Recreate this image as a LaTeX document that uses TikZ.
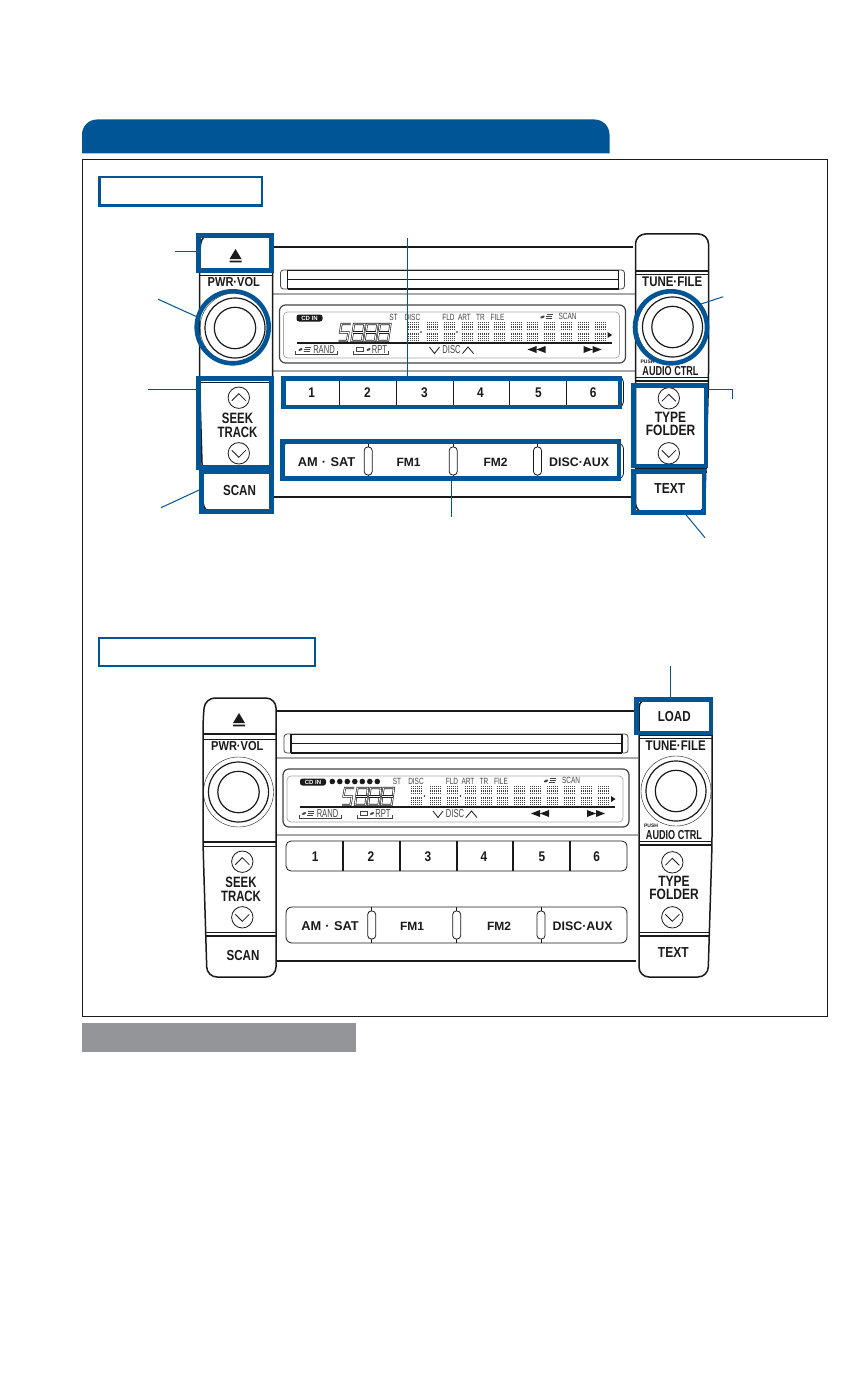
\documentclass[tikz,border=0pt]{standalone}
\usepackage{fontspec}
\setmainfont{Liberation Sans}
\usetikzlibrary{backgrounds}
\definecolor{cBand}{HTML}{005596}
\definecolor{cNote}{HTML}{939598}
\definecolor{ink}{HTML}{1A1A1A}
\definecolor{ink2}{HTML}{444444}
\definecolor{rule}{HTML}{A8A8A8}

\tikzset{
    lab/.style={font=\bfseries\fontsize{#1}{#1}\selectfont, text=ink, inner sep=0pt},
    slim/.style 2 args={lab=#1, xscale=#2, transform shape},
    lcd/.style 2 args={font=\fontsize{#1}{#1}\selectfont, text=ink2, inner sep=0pt, xscale=#2, transform shape},
    thick line/.style={draw=ink, line width=1.5pt},
    thin line/.style={draw=ink, line width=0.8pt},
    grey line/.style={draw=rule, line width=1.2pt},
    digit/.style={draw=ink, line width=.6pt, double=white, double distance=.9pt},
    radiounit/.pic={
        % ------------------------------------------------------- body
        \draw [thick line] (276,711) -- (636,711);
        \draw [thick line] (276,961) -- (636,961);
        \draw [grey line]  (276,758) -- (638,758);
        \draw [grey line]  (276,835) -- (638,835);
        % slot
        \draw [thin line, draw=ink2, rounded corners=3pt] (284,734) rectangle (628,753);
        \draw [thin line] (291,734) -- (622,734);
        \draw [thin line] (291,743) -- (622,743);
        \draw [thick line, line width=1.1pt] (291,753) -- (622,753);
        \draw [thick line, line width=1.1pt] (291,734) -- (291,753);
        \draw [thick line, line width=1.1pt] (622,734) -- (622,753);
        % display
        \draw [draw=ink2, line width=1.2pt, rounded corners=6pt] (283,769) rectangle (629,827);
        \draw [draw=rule, line width=0.7pt, rounded corners=4pt] (287,776) rectangle (623,822);
        \node (cdin) [fill=ink, rounded corners=2.5pt, text=white, font=\bfseries\fontsize{6}{6}\selectfont,
            inner sep=0pt, minimum width=26pt, minimum height=7pt] at (313,782) {CD IN};
        \node (st)   [lcd={9}{.72}] at (397,781) {ST};
        \node (disc) [lcd={9}{.72}] at (416,781) {DISC};
        \node (fld)  [lcd={9}{.72}] at (452,781) {FLD};
        \node (art)  [lcd={9}{.72}] at (468,781) {ART};
        \node (tr)   [lcd={9}{.72}] at (484,781) {TR};
        \node (file) [lcd={9}{.72}] at (501,781) {FILE};
        \node (scan) [lcd={9}{.72}] at (571,780) {SCAN};
        \fill [ink2, rotate around={25:(546,781)}] (546,781) ellipse (2.4 and 1.2);
        \draw [ink2, line width=.7pt] (550,778.5) -- (556,778.5) (549.5,780.5) -- (555.5,780.5) (549,782.5) -- (555,782.5);
        % large digits
        \draw [digit] (354,788) -- (345,788) -- (343.5,796.5) -- (352,796.5) -- (350.5,805) -- (342,805);
        \foreach \digx in {355,368,381} {
            \draw [digit] (\digx+2.5,788) -- (\digx+13,788) -- (\digx+10.5,805) -- (\digx,805) -- cycle;
            \draw [digit] (\digx+1.3,796.5) -- (\digx+11.7,796.5);
        }
        % dot matrix blocks
        \foreach \blkx in {411,430,447,465,481,497,514,530,547,564,581,598} {
            \foreach \rowy in {786.5,788.3,790.1,791.9,793.7,797,798.8,800.6,802.4,804.2} {
                \draw [draw=ink2, line width=1pt, dash pattern=on 1.2pt off .8pt] (\blkx,\rowy) -- +(11,0);
            }
        }
        \fill [ink] (424.5,796) circle (.9) (460.5,796) circle (.9);
        \fill [ink] (611,796) -- (615.5,799) -- (611,802) -- cycle;
        \draw [thick line] (300,807) -- (615,807);
        % soft key row in the display
        \draw [thin line, draw=ink2] (299,815) -- (299,818) -- (341,818) -- (341,815);
        \draw [thin line, draw=ink2] (357,815) -- (357,818) -- (392,818) -- (392,815);
        \fill [ink2, rotate around={25:(304,813.5)}] (304,813.5) ellipse (2.2 and 1.1);
        \draw [ink2, line width=.7pt] (308,811.5) -- (314,811.5) (307.5,813.5) -- (313.5,813.5) (307,815.5) -- (313,815.5);
        \node (rand) [lcd={11.5}{.66}] at (327.5,813.5) {RAND};
        \draw [ink2, line width=.8pt] (360,811.5) rectangle (367,815.5);
        \fill [ink2, rotate around={25:(372,813.5)}] (372,813.5) ellipse (2.2 and 1.1);
        \node (rpt)  [lcd={11.5}{.66}] at (383,813.5) {RPT};
        \draw [draw=ink, line width=.8pt] (433,811) -- (438,817.5) -- (443,811);
        \node (discb) [lcd={11.5}{.66}] at (455,813.5) {DISC};
        \draw [draw=ink, line width=.8pt] (466,817.5) -- (471.5,811) -- (477,817.5);
        \fill [ink] (540,810) -- (531,813.5) -- (540,817) -- cycle (549,810) -- (540,813.5) -- (549,817) -- cycle;
        \fill [ink] (587,810) -- (596,813.5) -- (587,817) -- cycle (596,810) -- (605,813.5) -- (596,817) -- cycle;
        % presets
        \draw [thin line, rounded corners=5pt] (286,841) rectangle (627,871);
        \foreach \divx in {343,400,457,513,570} {
            \draw [thick line, line width=1.1pt] (\divx,841) -- (\divx,871);
        }
        \node (one)   [slim={14}{.85}] at (315.3,857) {1};
        \node (two)   [slim={14}{.85}] at (371,857) {2};
        \node (three) [slim={14}{.85}] at (428,857) {3};
        \node (four)  [slim={14}{.85}] at (484,857) {4};
        \node (five)  [slim={14}{.85}] at (542,857) {5};
        \node (six)   [slim={14}{.85}] at (596.7,857) {6};
        % sources
        \draw [thin line, rounded corners=6pt] (286,907) rectangle (627,943);
        \foreach \capx in {371.7,456.7,541} {
            \draw [thin line] (\capx,907) -- (\capx,943);
            \draw [thin line, fill=white, rounded corners=3.5pt] (\capx-4,911) rectangle (\capx+4,939);
        }
        \node (amsat)   [lab=12.8] at (330,926) {AM\,\,·\,\,SAT};
        \node (fmone)   [lab=12]   at (412,926) {FM1};
        \node (fmtwo)   [lab=12]   at (499,926) {FM2};
        \node (discaux) [lab=12.4] at (582.7,926) {DISC·AUX};
        % ------------------------------------------------------- left panel
        \draw [thick line, fill=white, rounded corners=10pt] (203,720) -- (205,698) -- (276,698) -- (276,977) -- (207,977) -- (203,843) -- cycle;
        \draw [thick line] (203,734) -- (276,734);
        \draw [draw=ink, line width=.6pt] (203,739) -- (276,739);
        \draw [thick line] (203,842) -- (276,842);
        \draw [draw=ink, line width=.6pt] (203,846) -- (276,846);
        \draw [draw=ink, line width=.6pt] (205,932) -- (276,932);
        \draw [thick line] (205,936) -- (276,936);
        \fill [ink] (233,723) -- (239,713) -- (245,723) -- cycle (233,724.5) rectangle (245,726.3);
        \node (pwrvol) [slim={13}{.85}] at (237.3,746) {PWR·VOL};
        \draw [draw=ink, line width=.4pt] (238.5,792) circle (35);
        \draw [thick line, line width=1.2pt] (238.5,792) circle (30);
        \draw [thick line, line width=1.2pt] (238.5,792) circle (20.7);
        \draw [thin line] (242.3,861.7) circle (10.7) +(-7,3) -- +(0,-4) -- +(7,3);
        \draw [thin line] (242.3,917.3) circle (10.7) +(-7,-3) -- +(0,4) -- +(7,-3);
        \node (seek)  [slim={15}{.76}] at (241,882) {SEEK};
        \node (track) [slim={15}{.76}] at (241,896) {TRACK};
        \node (scanb) [slim={14.5}{.8}] at (243,955) {SCAN};
        % ------------------------------------------------------- right panel
        \draw [thick line, fill=white, rounded corners=10pt] (639,720) -- (639,698) -- (712,698) -- (712,845) -- (708,977) -- (639,977) -- cycle;
        \draw [thick line] (639,735) -- (712,735);
        \draw [draw=ink, line width=.6pt] (639,738.5) -- (712,738.5);
        \draw [draw=ink, line width=.6pt] (639,841) -- (712,841);
        \draw [thick line] (639,845) -- (712,845);
        \draw [draw=ink, line width=.6pt] (639,932) -- (710,932);
        \draw [thick line] (639,936) -- (710,936);
        \node (tunefile) [slim={14}{.82}] at (675.7,745.5) {TUNE·FILE};
        \draw [draw=ink, line width=.4pt] (676,791) circle (35);
        \draw [thick line, line width=1.2pt] (676,791) circle (30);
        \draw [thick line, line width=1.2pt] (676,791) circle (20.7);
        \node (push)  [lab=5] at (651,825.7) {PUSH};
        \node (audio) [slim={13}{.7}] at (674,835) {AUDIO CTRL};
        \draw [thin line] (672.3,862.3) circle (10.7) +(-7,3) -- +(0,-4) -- +(7,3);
        \draw [thin line] (672.3,917.3) circle (10.7) +(-7,-3) -- +(0,4) -- +(7,-3);
        \node (type)   [slim={15}{.8}] at (674,881) {TYPE};
        \node (folder) [slim={15}{.8}] at (674,894) {FOLDER};
        \node (textb)  [slim={14.5}{.83}] at (673.3,953) {TEXT};
    },
    hlframe/.style={draw=cBand, line width=4.6pt, inner sep=0pt, outer sep=0pt, rectangle},
    hlring/.style={draw=cBand, line width=4.6pt, inner sep=0pt, outer sep=0pt, circle, minimum size=72pt},
    leader/.style={draw=cBand, line width=1pt},
    subbox/.style={draw=cBand, line width=2.2pt, inner sep=0pt, outer sep=0pt, rectangle},
}

\begin{document}
\begin{tikzpicture}[x=1pt, y=-1pt]
\useasboundingbox (0,0) rectangle (867,1388);
\fill [white] (0,0) rectangle (867,1388);

% ---------------------------------------------------------------- page frame
\fill [cBand] (82,153.5) [rounded corners=15pt] -- (82,119.5) -- (609.5,119.5) [sharp corners] -- (609.5,153.5) -- cycle;
\node (panel) [draw=ink, line width=1pt, rectangle, inner sep=0pt, outer sep=0pt, minimum width=745pt, minimum height=856pt] at (454.5,588) {};
\node (headA) [subbox, minimum width=162.2pt, minimum height=28.6pt] at (180.5,191.3) {};
\node (headB) [subbox, minimum width=215.8pt, minimum height=27.6pt] at (207,651.8) {};
\node (note)  [fill=cNote, rectangle, inner sep=0pt, outer sep=0pt, minimum width=274pt, minimum height=29pt] at (219,1037.5) {};

% ---------------------------------------------------------------- radios
\pic (upper) at (-3.5,-464) {radiounit};
\pic (lower) at (0,0) {radiounit};
\foreach \lampx in {332.3,339.8,347.3,354.8,362.3,369.8,377.3} {
    \fill [ink] (\lampx,781.5) circle (2.8);
}
\node (load) [slim={14.5}{.8}] at (674.3,716.7) {LOAD};

% ---------------------------------------------------------------- leaders
\coordinate (ejecttip)  at (175,251.3);
\coordinate (knobtip)   at (158.3,299.3);
\coordinate (seektip)   at (148,389);
\coordinate (scantip)   at (161,507.7);
\coordinate (presettip) at (407.3,238);
\coordinate (sourcetip) at (451.3,516.7);
\coordinate (tunetip)   at (723.3,296.7);
\coordinate (typetip)   at (732.3,399);
\coordinate (texttip)   at (705,537.7);
\coordinate (loadtip)   at (670.7,666);

\node (ejectframe)  [hlframe, minimum width=73.4pt, minimum height=35pt]   at (235,253) {};
\node (knobring)    [hlring] at (232.7,327.3) {};
\node (seekframe)   [hlframe, minimum width=73.4pt, minimum height=89.4pt] at (235,423) {};
\node (scanframe)   [hlframe, minimum width=70.4pt, minimum height=40.2pt] at (236.5,491.6) {};
\node (presetframe) [hlframe, minimum width=336.7pt, minimum height=28.8pt] at (451.6,392.6) {};
\node (sourceframe) [hlframe, minimum width=336.6pt, minimum height=37.3pt] at (450.5,459.9) {};
\node (tunering)    [hlring] at (671,327.3) {};
\node (typeframe)   [hlframe, minimum width=72.8pt, minimum height=80.5pt] at (669.6,425.7) {};
\node (textframe)   [hlframe, minimum width=70.6pt, minimum height=41.3pt] at (668.5,492.1) {};
\node (loadframe)   [hlframe, minimum width=74.8pt, minimum height=33.6pt] at (673.6,716) {};

\draw [leader] (ejecttip)  -- (ejecttip -| ejectframe.west);
\draw [leader] (knobtip)   -- (knobring.164);
\draw [leader] (seektip)   -- (seektip -| seekframe.west);
\draw [leader] (scantip)   -- (scanframe.west |- 0,489);
\draw [leader] (presettip) -- (presettip |- presetframe.north);
\draw [leader] (sourcetip) -- (sourcetip |- sourceframe.south);
\draw [leader] (tunetip)   -- (tunering.39);
\draw [leader] (typetip)   -- (typetip |- 0,389.3) -- (typeframe.east |- 0,389.3);
\draw [leader] (texttip)   -- (684.3,0 |- textframe.south);
\draw [leader] (loadtip)   -- (loadtip |- loadframe.north);
\end{tikzpicture}
\end{document}
